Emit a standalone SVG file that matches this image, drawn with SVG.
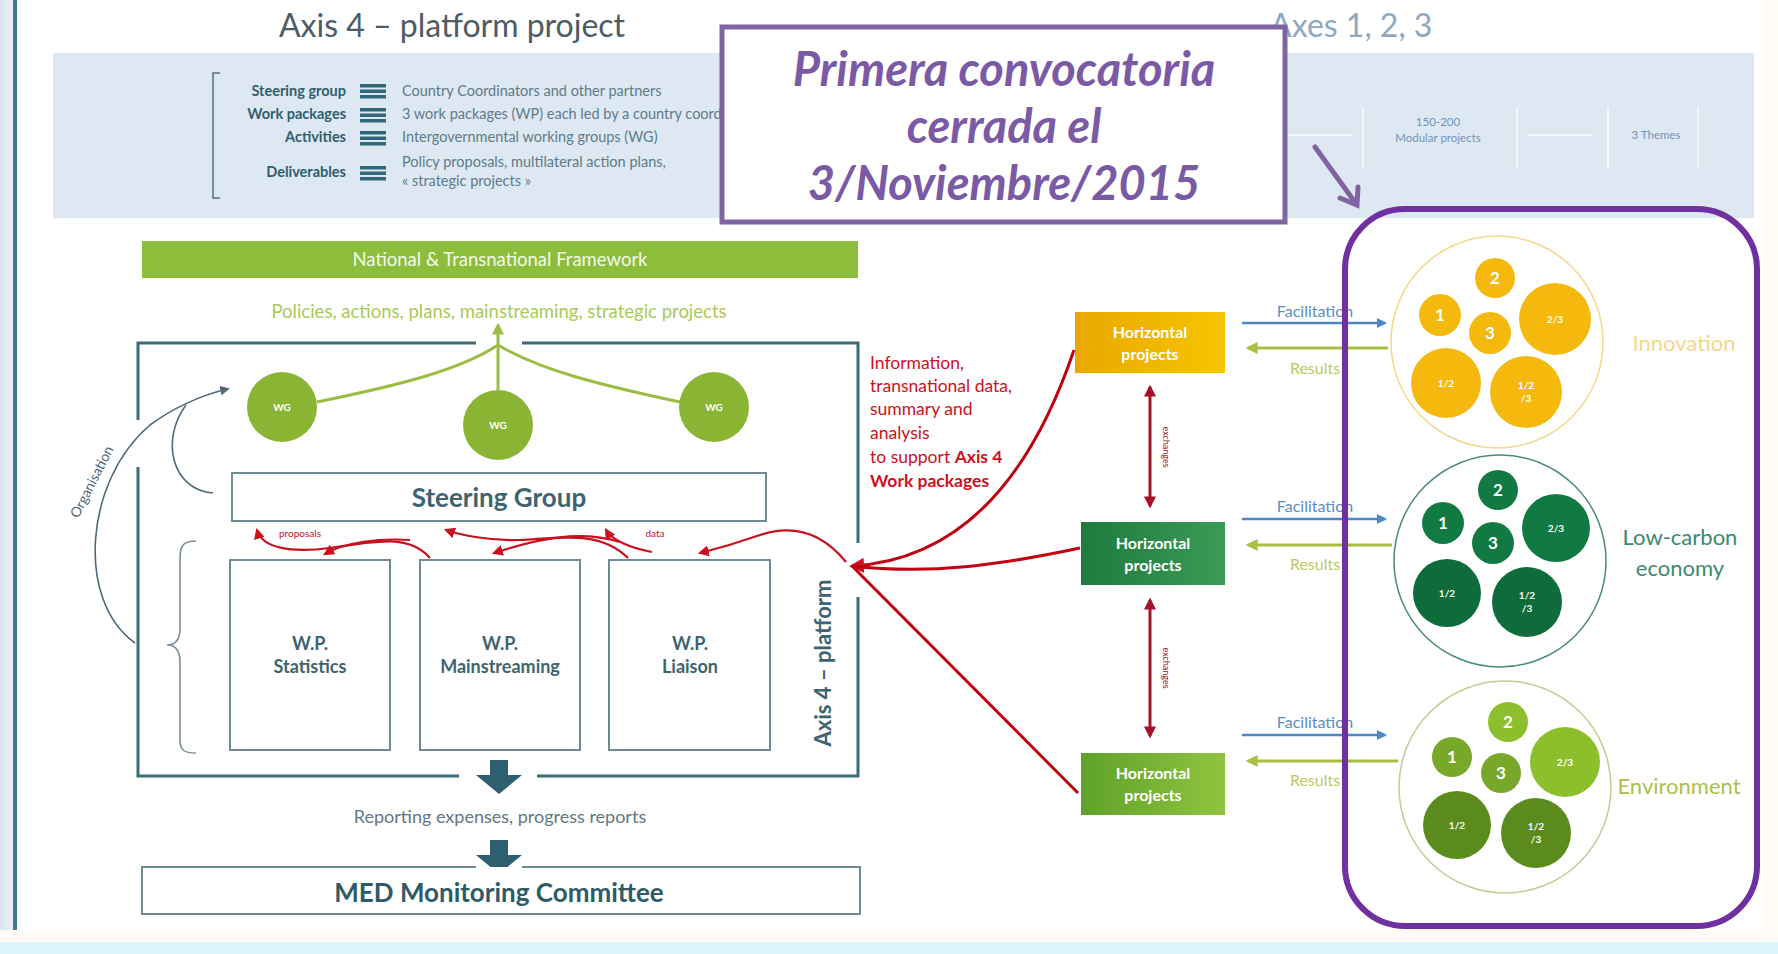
<svg xmlns="http://www.w3.org/2000/svg" width="1778" height="954" viewBox="0 0 1778 954">
<defs>
<style>
text{font-family:Lato,"Open Sans","Liberation Sans",sans-serif}
.lbl{font-size:14.5px;font-weight:bold;fill:#2f5f6e;text-anchor:end}
.desc{font-size:14.5px;fill:#5d7b88}
.box{fill:#fff;stroke:#6f8a94;stroke-width:2}
.wp{font-size:18px;font-weight:bold;fill:#3d6470;text-anchor:middle}
.red{fill:none;stroke:#c8101e;stroke-width:2.2}
.fan{fill:none;stroke:#c00010;stroke-width:3}
.hp{font-size:16px;font-weight:bold;fill:#fff;text-anchor:middle}
.fac{font-size:16px;fill:#5a8ccc;text-anchor:middle}
.res{font-size:16px;fill:#bccb62;text-anchor:middle}
.big{font-size:17px;font-weight:bold;fill:#fff;text-anchor:middle}
.sm{font-size:10px;font-weight:bold;fill:#fff;text-anchor:middle}
.wg{font-size:10px;font-weight:bold;fill:#fff;text-anchor:middle}
.ex{font-size:9px;fill:#a01028;text-anchor:middle}
.call{font-size:47px;font-weight:bold;font-style:italic;fill:#7a5aa5;text-anchor:middle}
</style>
<marker id="mRed" viewBox="0 0 10 10" refX="8" refY="5" markerWidth="5" markerHeight="5" orient="auto-start-reverse"><path d="M0,0 L10,5 L0,10 z" fill="#c8101e"/></marker>
<marker id="mDR" viewBox="0 0 10 10" refX="8" refY="5" markerWidth="4" markerHeight="4" orient="auto-start-reverse"><path d="M0,0 L10,5 L0,10 z" fill="#a8102a"/></marker>
<marker id="mBlue" viewBox="0 0 10 10" refX="8" refY="5" markerWidth="4" markerHeight="4" orient="auto"><path d="M0,0 L10,5 L0,10 z" fill="#4a86c8"/></marker>
<marker id="mGreen" viewBox="0 0 10 10" refX="8" refY="5" markerWidth="4" markerHeight="4" orient="auto-start-reverse"><path d="M0,0 L10,5 L0,10 z" fill="#a8bf44"/></marker>
<marker id="mLG" viewBox="0 0 10 10" refX="8" refY="5" markerWidth="4" markerHeight="4" orient="auto"><path d="M0,0 L10,5 L0,10 z" fill="#9bbd44"/></marker>
<marker id="mGray" viewBox="0 0 10 10" refX="8" refY="5" markerWidth="6" markerHeight="6" orient="auto"><path d="M0,0 L10,5 L0,10 z" fill="#4f6a78"/></marker>
<linearGradient id="gY" x1="0" y1="0" x2="1" y2="0"><stop offset="0" stop-color="#e9a800"/><stop offset="1" stop-color="#f6c400"/></linearGradient>
<linearGradient id="gG" x1="0" y1="0" x2="1" y2="0"><stop offset="0" stop-color="#1f7a3e"/><stop offset="1" stop-color="#3b9b56"/></linearGradient>
<linearGradient id="gL" x1="0" y1="0" x2="1" y2="0"><stop offset="0" stop-color="#5fa22a"/><stop offset="1" stop-color="#8fc43e"/></linearGradient>
<linearGradient id="gEdge" x1="0" y1="0" x2="1" y2="0"><stop offset="0" stop-color="#d7e3ee"/><stop offset="1" stop-color="#eef3f8"/></linearGradient>
</defs>

<!-- background -->
<rect x="0" y="0" width="1778" height="954" fill="#ffffff"/>
<rect x="0" y="0" width="14" height="942" fill="url(#gEdge)"/>
<rect x="13" y="0" width="4" height="942" fill="#3f7b95"/>
<rect x="0" y="930" width="1778" height="12" fill="#fffaf3"/>
<rect x="0" y="942" width="1778" height="12" fill="#def6fb"/>
<rect x="1762" y="0" width="16" height="942" fill="#fffcf6"/>

<!-- top panel -->
<g id="top-panel">
<rect x="53" y="53" width="1701" height="165" fill="#dde8f3"/>
<text x="452" y="37" font-size="32" fill="#4d5c66" text-anchor="middle">Axis 4 – platform project</text>
<text x="1270" y="37" font-size="32" fill="#8fa8c0">Axes 1, 2, 3</text>
<path d="M220 73 L213 73 L213 198 L220 198" fill="none" stroke="#55707c" stroke-width="1.5"/>
<text class="lbl" x="346" y="96">Steering group</text>
<text class="lbl" x="346" y="119">Work packages</text>
<text class="lbl" x="346" y="142">Activities</text>
<text class="lbl" x="346" y="177">Deliverables</text>
<g fill="#2f6878">
<rect x="360" y="84" width="26" height="3.5"/><rect x="360" y="89.5" width="26" height="3.5"/><rect x="360" y="95" width="26" height="3.5"/>
<rect x="360" y="108" width="26" height="3.5"/><rect x="360" y="113.5" width="26" height="3.5"/><rect x="360" y="119" width="26" height="3.5"/>
<rect x="360" y="131" width="26" height="3.5"/><rect x="360" y="136.5" width="26" height="3.5"/><rect x="360" y="142" width="26" height="3.5"/>
<rect x="360" y="166" width="26" height="3.5"/><rect x="360" y="171.5" width="26" height="3.5"/><rect x="360" y="177" width="26" height="3.5"/>
</g>
<text class="desc" x="402" y="96">Country Coordinators and other partners</text>
<text class="desc" x="402" y="119">3 work packages (WP) each led by a country coordinator</text>
<text class="desc" x="402" y="142">Intergovernmental working groups (WG)</text>
<text class="desc" x="402" y="167">Policy proposals, multilateral action plans,</text>
<text class="desc" x="402" y="186">« strategic projects »</text>
<g stroke="#f2f7fc" stroke-width="2" fill="none">
<line x1="1363" y1="107" x2="1363" y2="168"/><line x1="1517" y1="107" x2="1517" y2="168"/>
<line x1="1608" y1="107" x2="1608" y2="168"/><line x1="1698" y1="107" x2="1698" y2="168"/>
<line x1="1287" y1="135" x2="1353" y2="135"/><line x1="1527" y1="135" x2="1593" y2="135"/>
</g>
<text x="1438" y="126" font-size="11.5" fill="#6f94b8" text-anchor="middle">150-200</text>
<text x="1438" y="142" font-size="11.5" fill="#6f94b8" text-anchor="middle">Modular projects</text>
<text x="1656" y="139" font-size="11.5" fill="#6f94b8" text-anchor="middle">3 Themes</text>
</g>

<!-- callout -->
<g id="callout">
<rect x="722" y="27" width="563" height="195" fill="#fff" stroke="#8064a2" stroke-width="5"/>
<text class="call" x="1004" y="86">Primera convocatoria</text>
<text class="call" x="1004" y="143">cerrada el</text>
<text class="call" x="1004" y="200">3/Noviembre/2015</text>
</g>

<!-- framework -->
<g id="framework">
<rect x="142" y="241" width="716" height="37" fill="#8cbe3c"/>
<text x="500" y="266" font-size="18.5" fill="#f4f8e8" text-anchor="middle">National &amp; Transnational Framework</text>
<text x="499" y="318" font-size="18.5" fill="#a9c95a" text-anchor="middle">Policies, actions, plans, mainstreaming, strategic projects</text>
</g>

<!-- platform frame -->
<g id="platform" fill="none" stroke="#3c6a78" stroke-width="3">
<path d="M476 343 L138 343 L138 420 M138 467 L138 776 L459 776 M537 776 L858 776 L858 597 M858 543 L858 343 L522 343"/>
</g>
<text x="0" y="0" font-size="22" font-weight="bold" fill="#3d6470" text-anchor="middle" transform="translate(831 663) rotate(-90)">Axis 4 – platform</text>

<!-- WG -->
<g id="wg1"><circle cx="282" cy="407" r="35" fill="#8ab534"/><text class="wg" x="282" y="411">WG</text></g>
<g id="wg2"><circle cx="498" cy="425" r="35" fill="#8ab534"/><text class="wg" x="498" y="429">WG</text></g>
<g id="wg3"><circle cx="714" cy="407" r="35" fill="#8ab534"/><text class="wg" x="714" y="411">WG</text></g>

<!-- steering -->
<g id="steering"><rect class="box" x="232" y="473" width="534" height="48"/><text x="499" y="507" font-size="26" font-weight="bold" fill="#3d6470" text-anchor="middle">Steering Group</text></g>

<!-- WPs -->
<g id="wp-stat"><rect class="box" x="230" y="560" width="160" height="190"/><text class="wp" x="310" y="650">W.P.</text><text class="wp" x="310" y="673">Statistics</text></g>
<g id="wp-main"><rect class="box" x="420" y="560" width="160" height="190"/><text class="wp" x="500" y="650">W.P.</text><text class="wp" x="500" y="673">Mainstreaming</text></g>
<g id="wp-liai"><rect class="box" x="609" y="560" width="161" height="190"/><text class="wp" x="690" y="650">W.P.</text><text class="wp" x="690" y="673">Liaison</text></g>

<!-- reporting -->
<g id="reporting">
<path d="M490 760 L508 760 L508 775 L522 775 L499 794 L476 775 L490 775 z" fill="#2d5f70"/>
<text x="500" y="823" font-size="18" fill="#607880" text-anchor="middle">Reporting expenses, progress reports</text>
<path d="M490 840 L508 840 L508 855 L522 855 L499 874 L476 855 L490 855 z" fill="#2d5f70"/>
</g>
<g id="med">
<path d="M476 867 L142 867 L142 914 L860 914 L860 867 L522 867" fill="#fff" stroke="#6f8a94" stroke-width="2"/>
<text x="499" y="902" font-size="26" font-weight="bold" fill="#2f5a68" text-anchor="middle">MED Monitoring Committee</text>
</g>

<!-- horizontal projects -->
<g id="hp1"><rect x="1075" y="312" width="150" height="61" fill="url(#gY)"/><text class="hp" x="1150" y="338">Horizontal</text><text class="hp" x="1150" y="360">projects</text></g>
<g id="hp2"><rect x="1081" y="522" width="144" height="63" fill="url(#gG)"/><text class="hp" x="1153" y="549">Horizontal</text><text class="hp" x="1153" y="571">projects</text></g>
<g id="hp3"><rect x="1081" y="753" width="144" height="62" fill="url(#gL)"/><text class="hp" x="1153" y="779">Horizontal</text><text class="hp" x="1153" y="801">projects</text></g>

<!-- red info text -->
<g id="info" font-size="17.5" fill="#d01020">
<text x="870" y="369">Information,</text>
<text x="870" y="392">transnational data,</text>
<text x="870" y="415">summary and</text>
<text x="870" y="439">analysis</text>
<text x="870" y="463">to support <tspan font-weight="bold">Axis 4</tspan></text>
<text x="870" y="487" font-weight="bold">Work packages</text>
</g>

<!-- themes -->
<g id="innovation">
<circle cx="1497" cy="342" r="106" fill="#fff" stroke="#f0d98a" stroke-width="1.5"/>
<g fill="#f4b90c">
<circle cx="1495" cy="278" r="20"/><circle cx="1440" cy="315" r="21"/><circle cx="1490" cy="333" r="21"/>
<circle cx="1555" cy="319" r="36"/><circle cx="1446" cy="383" r="35"/><circle cx="1526" cy="392" r="36"/>
</g>
<text class="big" x="1495" y="284">2</text><text class="big" x="1440" y="321">1</text><text class="big" x="1490" y="339">3</text>
<text class="sm" x="1555" y="323">2/3</text><text class="sm" x="1446" y="387">1/2</text>
<text class="sm" x="1526" y="389">1/2</text><text class="sm" x="1526" y="402">/3</text>
<text x="1684" y="351" font-size="22" fill="#f3d88e" text-anchor="middle">Innovation</text>
</g>
<g id="lowcarbon">
<circle cx="1500" cy="561" r="106" fill="#fff" stroke="#4a8c72" stroke-width="1.5"/>
<g fill="#117a43">
<circle cx="1498" cy="490" r="20"/><circle cx="1443" cy="523" r="21"/><circle cx="1493" cy="543" r="21"/>
<circle cx="1556" cy="528" r="34"/>
</g>
<g fill="#0d6c39"><circle cx="1447" cy="593" r="34"/><circle cx="1527" cy="602" r="35"/></g>
<text class="big" x="1498" y="496">2</text><text class="big" x="1443" y="529">1</text><text class="big" x="1493" y="549">3</text>
<text class="sm" x="1556" y="532">2/3</text><text class="sm" x="1447" y="597">1/2</text>
<text class="sm" x="1527" y="599">1/2</text><text class="sm" x="1527" y="612">/3</text>
<text x="1680" y="545" font-size="22" fill="#3a8a70" text-anchor="middle">Low-carbon</text>
<text x="1680" y="576" font-size="22" fill="#3a8a70" text-anchor="middle">economy</text>
</g>
<g id="environment">
<circle cx="1505" cy="787" r="106" fill="#fff" stroke="#c2cc96" stroke-width="1.5"/>
<g fill="#8cbf2c"><circle cx="1508" cy="722" r="20"/><circle cx="1565" cy="762" r="35"/></g>
<g fill="#78a82a"><circle cx="1452" cy="757" r="20"/><circle cx="1501" cy="773" r="20"/></g>
<g fill="#5b8b1c"><circle cx="1457" cy="825" r="34"/><circle cx="1536" cy="833" r="35"/></g>
<text class="big" x="1508" y="728">2</text><text class="big" x="1452" y="763">1</text><text class="big" x="1501" y="779">3</text>
<text class="sm" x="1565" y="766">2/3</text><text class="sm" x="1457" y="829">1/2</text>
<text class="sm" x="1536" y="830">1/2</text><text class="sm" x="1536" y="843">/3</text>
<text x="1679" y="794" font-size="22" fill="#a9c24a" text-anchor="middle">Environment</text>
</g>

<!-- connectors -->
<g id="connectors">
<path d="M317 402 C400 385 460 370 498 345" fill="none" stroke="#9bbd44" stroke-width="3"/>
<path d="M680 402 C600 385 540 370 498 345" fill="none" stroke="#9bbd44" stroke-width="3"/>
<path d="M498 390 L498 345 L498 325" fill="none" stroke="#9bbd44" stroke-width="3" marker-end="url(#mLG)"/>
<path d="M135 643 C75 600 85 480 150 425 C170 410 200 395 228 389" fill="none" stroke="#4f6a78" stroke-width="1.6" marker-end="url(#mGray)"/>
<path d="M213 493 C172 490 160 440 186 405" fill="none" stroke="#4f6a78" stroke-width="1.6"/>
<path d="M196 541 C181 541 180 548 180 560 L180 628 C180 639 176 645 167 645 C176 645 180 651 180 662 L180 740 C180 750 184 753 196 753" fill="none" stroke="#7a9098" stroke-width="1.6"/>
<text x="0" y="0" font-size="14" fill="#506a78" text-anchor="middle" transform="translate(96 484) rotate(-63)">Organisation</text>
<path class="red" d="M430 558 C410 535 380 540 330 548 C290 553 262 548 257 530" marker-end="url(#mRed)"/>
<path class="red" d="M410 540 C380 538 345 542 325 554" marker-end="url(#mRed)"/>
<path class="red" d="M628 558 C600 530 560 538 520 540 C490 541 460 535 446 530" marker-end="url(#mRed)"/>
<path class="red" d="M620 542 C580 530 540 538 494 553" marker-end="url(#mRed)"/>
<path class="red" d="M652 552 C630 548 612 540 606 530" marker-end="url(#mRed)"/>
<path class="red" d="M846 562 C820 530 790 525 760 535 C740 542 720 548 700 553" marker-end="url(#mRed)"/>
<text x="300" y="537" font-size="10" fill="#c8101e" text-anchor="middle">proposals</text>
<text x="655" y="537" font-size="10" fill="#c8101e" text-anchor="middle">data</text>
<path class="fan" d="M1074 350 C1030 480 960 560 852 566" marker-end="url(#mRed)"/>
<path class="fan" d="M1080 548 C1000 565 930 575 852 566"/>
<path class="fan" d="M1078 793 L852 566"/>
<line x1="1150" y1="387" x2="1150" y2="506" stroke="#a8102a" stroke-width="3" marker-start="url(#mDR)" marker-end="url(#mDR)"/>
<line x1="1150" y1="600" x2="1150" y2="736" stroke="#a8102a" stroke-width="3" marker-start="url(#mDR)" marker-end="url(#mDR)"/>
<text class="ex" transform="translate(1163 447) rotate(90)">exchanges</text>
<text class="ex" transform="translate(1163 668) rotate(90)">exchanges</text>
<line x1="1242" y1="323" x2="1385" y2="323" stroke="#4a86c8" stroke-width="2.5" marker-end="url(#mBlue)"/>
<line x1="1248" y1="348" x2="1388" y2="348" stroke="#a8bf44" stroke-width="3" marker-start="url(#mGreen)"/>
<line x1="1242" y1="519" x2="1385" y2="519" stroke="#4a86c8" stroke-width="2.5" marker-end="url(#mBlue)"/>
<line x1="1248" y1="545" x2="1392" y2="545" stroke="#a8bf44" stroke-width="3" marker-start="url(#mGreen)"/>
<line x1="1242" y1="735" x2="1385" y2="735" stroke="#4a86c8" stroke-width="2.5" marker-end="url(#mBlue)"/>
<line x1="1248" y1="761" x2="1398" y2="761" stroke="#a8bf44" stroke-width="3" marker-start="url(#mGreen)"/>
<text class="fac" x="1315" y="317">Facilitation</text>
<text class="res" x="1315" y="374">Results</text>
<text class="fac" x="1315" y="512">Facilitation</text>
<text class="res" x="1315" y="570">Results</text>
<text class="fac" x="1315" y="728">Facilitation</text>
<text class="res" x="1315" y="786">Results</text>
<path d="M1315 147 L1357 205 M1340 198 L1357 205 L1358 187" fill="none" stroke="#8064a2" stroke-width="5" stroke-linecap="round"/>
</g>

<!-- purple frame -->
<g id="themes-frame">
<rect x="1345" y="209" width="412" height="717" rx="60" ry="60" fill="none" stroke="#7030a0" stroke-width="6"/>
</g>
</svg>
